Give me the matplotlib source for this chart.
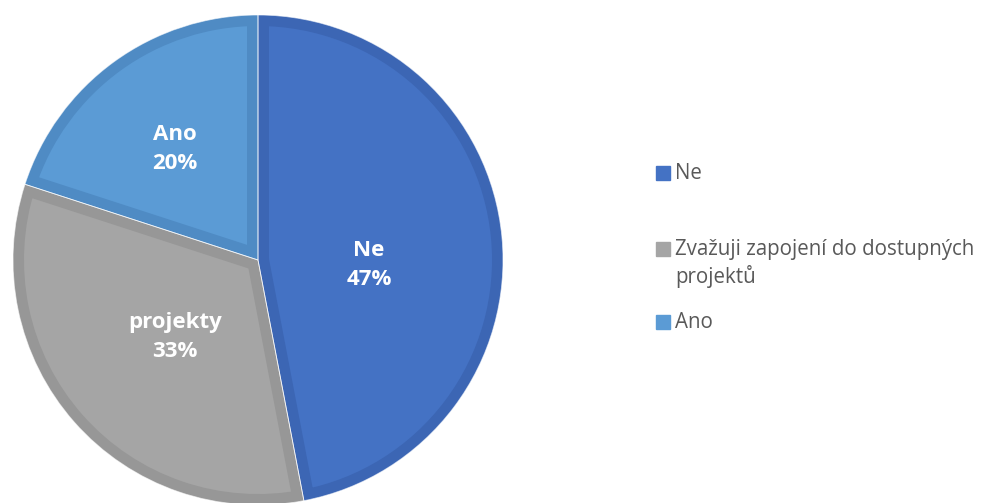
import matplotlib.pyplot as plt
from matplotlib.patches import Rectangle, Wedge

plt.rcParams['font.family'] = ['Open Sans', 'DejaVu Sans']

labels = ["Ne", "Zvažuji zapojení do dostupných projektů", "Ano"]
slice_text = ["Ne", "projekty", "Ano"]
shares = [47, 33, 20]
fills = ["#4472C4", "#A5A5A5", "#5B9BD5"]
borders = ["#3C66B4", "#979797", "#4F8BC4"]
legend_lines = [["Ne"], ["Zvažuji zapojení do dostupných", "projektů"], ["Ano"]]

W, H = 981, 503
fig = plt.figure(figsize=(W / 100, H / 100), dpi=100)

cx, cy, r = 258, 260, 245
ax = fig.add_axes([(cx - r) / W, (H - cy - r) / H, 2 * r / W, 2 * r / H])

wedges, _ = ax.pie(shares, colors=fills, startangle=90, counterclock=False,
                   radius=1)
for w, ec in zip(wedges, borders):
    w.set_edgecolor(ec)
    w.set_linewidth(22 * 72 / 100)
    w.set_clip_on(True)
    w.set_clip_path(w)
    # faint light separator between slices
    sep = Wedge(w.center, w.r, w.theta1, w.theta2, fill=False,
                edgecolor="white", linewidth=0.6, alpha=0.7)
    ax.add_patch(sep)
ax.set_xlim(-1, 1)
ax.set_ylim(-1, 1)
ax.set_aspect("equal")

# slice labels
label_pos = [(369, 265), (175, 337), (175, 149)]
for (px, py), name, v in zip(label_pos, slice_text, shares):
    fig.text(px / W, 1 - py / H, f"{name}\n{v}%", ha="center", va="center",
             color="white", fontsize=16, fontweight="bold", linespacing=1.5)

# legend
leg_y = [173, 249, 322]
for y, lines, c in zip(leg_y, legend_lines, fills):
    fig.add_artist(Rectangle((656 / W, 1 - (y + 7) / H), 14 / W, 14 / H,
                             transform=fig.transFigure, color=c))
    for i, line in enumerate(lines):
        fig.text(675 / W, 1 - (y + 28 * i) / H, line, ha="left", va="center",
                 color="#595959", fontsize=14.8)

fig.savefig("out.png", dpi=100)
